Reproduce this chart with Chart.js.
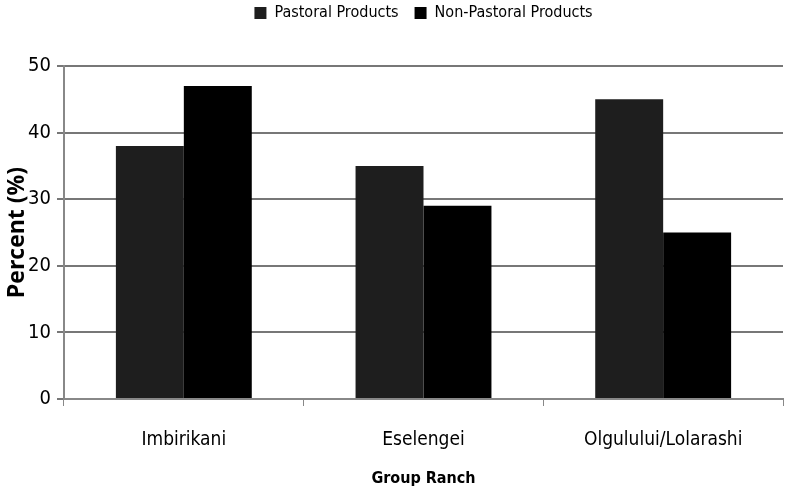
<!DOCTYPE html>
<html>
<head>
<meta charset="utf-8">
<script src="https://cdn.jsdelivr.net/npm/chart.js@4.4.0/dist/chart.umd.min.js"></script>
<style>
  html, body { margin: 0; padding: 0; background: #fff; }
  #wrap { width: 788px; height: 492px; }
</style>
</head>
<body>
<div id="wrap"><canvas id="chart" width="788" height="492"></canvas></div>
<script>
const categories = ['Imbirikani', 'Eselengei', 'Olgulului/Lolarashi'];
const pastoral = [38, 35, 45];
const nonPastoral = [47, 29, 25];
const yTicks = [0, 10, 20, 30, 40, 50];

const fontFamily = '"Open Sans", sans-serif';
const narrowFamily = '"DejaVu Sans Condensed", "Open Sans", sans-serif';

// stretch the legend box so the plot starts where the original one does,
// and nudge it right a bit (the original legend is centred on the plot)
const legendHeight = {
    id: 'legendHeight',
    afterInit(chart) {
        const lg = chart.legend;
        const fit = lg.fit.bind(lg);
        lg.fit = function () {
            fit();
            this.height = 77;
        };
    },
    afterLayout(chart) {
        chart.legend.left += 64;
    }
};

new Chart(document.getElementById('chart').getContext('2d'), {
    type: 'bar',
    data: {
        labels: categories,
        datasets: [{
            label: 'Pastoral Products',
            data: pastoral,
            backgroundColor: '#1e1e1e',
            borderWidth: 0
        }, {
            label: 'Non-Pastoral Products',
            data: nonPastoral,
            backgroundColor: '#000000',
            borderWidth: 0
        }]
    },
    options: {
        responsive: false,
        animation: false,
        layout: { padding: { right: 5, top: -11, left: 0, bottom: 0 } },
        datasets: {
            bar: { categoryPercentage: 0.567, barPercentage: 1.0 }
        },
        plugins: {
            legend: {
                position: 'top',
                labels: {
                    color: '#000',
                    font: { family: narrowFamily, size: 16 },
                    boxWidth: 12,
                    boxHeight: 12,
                    padding: 16
                }
            },
            tooltip: { enabled: false }
        },
        scales: {
            x: {
                offset: true,
                grid: {
                    offset: true,
                    drawOnChartArea: false,
                    drawTicks: true,
                    tickLength: 7,
                    color: '#888'
                },
                border: { color: '#888', width: 2 },
                ticks: {
                    color: '#000',
                    font: { family: narrowFamily, size: 19 },
                    padding: 23
                },
                title: {
                    display: true,
                    text: 'Group Ranch',
                    color: '#000',
                    font: { family: narrowFamily, size: 16, weight: 'bold' },
                    padding: { top: 0 }
                },
                afterFit: (scale) => { scale.height = 93; }
            },
            y: {
                min: 0,
                max: 50,
                afterBuildTicks: (scale) => { scale.ticks = yTicks.map(v => ({ value: v })); },
                grid: {
                    color: '#777',
                    lineWidth: 2,
                    tickLength: 7
                },
                border: { color: '#888', width: 2 },
                ticks: {
                    color: '#000',
                    font: { family: narrowFamily, size: 20 },
                    padding: 6
                },
                title: {
                    display: true,
                    text: 'Percent (%)',
                    color: '#000',
                    font: { family: fontFamily, size: 23, weight: 'bold' },
                    padding: { bottom: 0 }
                },
                afterFit: (scale) => { scale.width = 64; }
            }
        }
    },
    plugins: [legendHeight]
});
</script>
</body>
</html>
